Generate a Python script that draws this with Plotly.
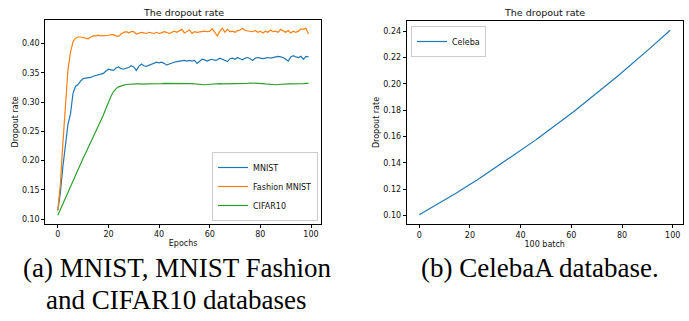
import plotly.graph_objects as go

# ---------------- data ----------------
epochs = list(range(100))
batches = list(range(100))

mnist = [0.115, 0.145, 0.190, 0.228, 0.262, 0.280, 0.315, 0.327, 0.330, 0.336,
         0.340, 0.341, 0.341, 0.342, 0.344, 0.345, 0.346, 0.347, 0.349, 0.353,
         0.356, 0.355, 0.354, 0.358, 0.360, 0.357, 0.356, 0.358, 0.359, 0.362,
         0.360, 0.354, 0.361, 0.365, 0.362, 0.361, 0.363, 0.365, 0.366, 0.368,
         0.367, 0.368, 0.366, 0.363, 0.365, 0.367, 0.368, 0.369, 0.370, 0.370,
         0.371, 0.370, 0.371, 0.370, 0.371, 0.366, 0.369, 0.373, 0.372, 0.370,
         0.372, 0.373, 0.371, 0.372, 0.375, 0.373, 0.372, 0.369, 0.374, 0.375,
         0.373, 0.376, 0.374, 0.372, 0.375, 0.376, 0.374, 0.371, 0.375, 0.376,
         0.375, 0.374, 0.375, 0.376, 0.375, 0.376, 0.377, 0.378, 0.377, 0.376,
         0.373, 0.370, 0.377, 0.379, 0.377, 0.376, 0.378, 0.373, 0.378, 0.377]

fashion_mnist = [0.116, 0.160, 0.230, 0.300, 0.355, 0.385, 0.403, 0.409, 0.411, 0.411,
                 0.410, 0.409, 0.408, 0.411, 0.413, 0.413, 0.414, 0.413, 0.413, 0.414,
                 0.414, 0.415, 0.415, 0.413, 0.412, 0.416, 0.419, 0.420, 0.418, 0.420,
                 0.420, 0.416, 0.417, 0.419, 0.418, 0.417, 0.419, 0.418, 0.417, 0.419,
                 0.417, 0.418, 0.420, 0.419, 0.417, 0.419, 0.421, 0.419, 0.422, 0.424,
                 0.418, 0.420, 0.423, 0.417, 0.420, 0.419, 0.420, 0.420, 0.421, 0.420,
                 0.421, 0.425, 0.419, 0.413, 0.421, 0.426, 0.419, 0.424, 0.420, 0.421,
                 0.419, 0.422, 0.423, 0.426, 0.422, 0.421, 0.421, 0.420, 0.422, 0.419,
                 0.421, 0.418, 0.421, 0.419, 0.423, 0.420, 0.421, 0.419, 0.424, 0.421,
                 0.419, 0.422, 0.418, 0.421, 0.419, 0.421, 0.425, 0.424, 0.426, 0.416]

cifar10 = [0.107, 0.117, 0.127, 0.137, 0.147, 0.156, 0.166, 0.175, 0.185, 0.194,
           0.204, 0.213, 0.222, 0.231, 0.241, 0.250, 0.259, 0.268, 0.278, 0.289,
           0.300, 0.310, 0.318, 0.323, 0.326, 0.328, 0.329, 0.330, 0.3305, 0.331,
           0.331, 0.331, 0.331, 0.3305, 0.3305, 0.331, 0.331, 0.331, 0.3305, 0.331,
           0.331, 0.3315, 0.332, 0.332, 0.3315, 0.332, 0.3325, 0.3325, 0.332, 0.332,
           0.3325, 0.332, 0.332, 0.3315, 0.331, 0.3305, 0.330, 0.3295, 0.3295, 0.330,
           0.3305, 0.331, 0.331, 0.3315, 0.3315, 0.331, 0.331, 0.3315, 0.332, 0.332,
           0.3315, 0.331, 0.331, 0.3315, 0.332, 0.332, 0.3325, 0.3325, 0.3325, 0.332,
           0.332, 0.3315, 0.331, 0.3305, 0.330, 0.3295, 0.3295, 0.330, 0.3305, 0.331,
           0.331, 0.331, 0.331, 0.331, 0.3305, 0.331, 0.3315, 0.3315, 0.332, 0.332]

celeba = [0.1005, 0.1016, 0.1027, 0.1038, 0.1049, 0.1060, 0.1071, 0.1082, 0.1094, 0.1105,
          0.1116, 0.1128, 0.1140, 0.1151, 0.1163, 0.1175, 0.1187, 0.1198, 0.1210, 0.1222,
          0.1235, 0.1247, 0.1259, 0.1271, 0.1284, 0.1296, 0.1309, 0.1321, 0.1334, 0.1347,
          0.1360, 0.1372, 0.1385, 0.1398, 0.1412, 0.1425, 0.1438, 0.1451, 0.1465, 0.1478,
          0.1491, 0.1505, 0.1519, 0.1532, 0.1546, 0.1560, 0.1574, 0.1588, 0.1602, 0.1616,
          0.1630, 0.1644, 0.1659, 0.1673, 0.1687, 0.1702, 0.1716, 0.1731, 0.1746, 0.1761,
          0.1775, 0.1790, 0.1805, 0.1820, 0.1835, 0.1851, 0.1866, 0.1881, 0.1897, 0.1912,
          0.1928, 0.1943, 0.1959, 0.1975, 0.1990, 0.2006, 0.2022, 0.2038, 0.2054, 0.2070,
          0.2087, 0.2103, 0.2119, 0.2136, 0.2152, 0.2169, 0.2185, 0.2202, 0.2219, 0.2236,
          0.2252, 0.2269, 0.2286, 0.2303, 0.2321, 0.2338, 0.2355, 0.2373, 0.2390, 0.2407]

x_ticks = [0, 20, 40, 60, 80, 100]
left_y_ticks = [0.10, 0.15, 0.20, 0.25, 0.30, 0.35, 0.40]
right_y_ticks = [0.10, 0.12, 0.14, 0.16, 0.18, 0.20, 0.22, 0.24]

# ---------------- figure ----------------
W, H = 689, 321
BLUE, ORANGE, GREEN = "#1f77b4", "#ff7f0e", "#2ca02c"
TICK_FONT = dict(family="DejaVu Sans", size=8, color="#111111")
LBL_FONT = dict(family="DejaVu Sans", size=8, color="#111111")

fig = go.Figure()
lw = 1.2
fig.add_trace(go.Scatter(x=epochs, y=mnist, mode="lines", name="MNIST",
                         line=dict(color=BLUE, width=lw), xaxis="x", yaxis="y", legend="legend"))
fig.add_trace(go.Scatter(x=epochs, y=fashion_mnist, mode="lines", name="Fashion MNIST",
                         line=dict(color=ORANGE, width=lw), xaxis="x", yaxis="y", legend="legend"))
fig.add_trace(go.Scatter(x=epochs, y=cifar10, mode="lines", name="CIFAR10",
                         line=dict(color=GREEN, width=lw), xaxis="x", yaxis="y", legend="legend"))
fig.add_trace(go.Scatter(x=batches, y=celeba, mode="lines", name="Celeba",
                         line=dict(color=BLUE, width=lw), xaxis="x2", yaxis="y2", legend="legend2"))

def px_x(p):
    return p / W

def px_y(p):
    return 1 - p / H

axis_common = dict(showline=True, linecolor="black", linewidth=1, mirror=True,
                   ticks="outside", ticklen=3, tickwidth=1, tickcolor="black",
                   showgrid=False, zeroline=False, tickfont=TICK_FONT, automargin=False)

fig.update_layout(
    template="none",
    width=W, height=H,
    margin=dict(l=0, r=0, t=0, b=0, pad=0, autoexpand=False),
    paper_bgcolor="white", plot_bgcolor="white",
    xaxis=dict(domain=[px_x(45.3), px_x(321)], range=[-4.95, 103.95],
               tickvals=x_ticks, anchor="y",
               title=dict(text="Epochs", font=LBL_FONT, standoff=2), **axis_common),
    yaxis=dict(domain=[px_y(223.7), px_y(20)], range=[0.0925, 0.4400],
               tickvals=left_y_ticks, tickformat=".2f", anchor="x",
               title=dict(text="Dropout rate", font=LBL_FONT, standoff=2), **axis_common),
    xaxis2=dict(domain=[px_x(406.7), px_x(682.7)], range=[-4.95, 103.95],
                tickvals=x_ticks, anchor="y2",
                title=dict(text="100 batch", font=LBL_FONT, standoff=2), **axis_common),
    yaxis2=dict(domain=[px_y(224), px_y(21)], range=[0.0935, 0.2477],
                tickvals=right_y_ticks, tickformat=".2f", anchor="x2",
                title=dict(text="Dropout rate", font=LBL_FONT, standoff=2), **axis_common),
    legend=dict(x=px_x(318), y=px_y(221), xanchor="right", yanchor="bottom",
                bgcolor="rgba(255,255,255,0.8)", bordercolor="#cccccc", borderwidth=1,
                font=dict(family="DejaVu Sans", size=8, color="#111111"),
                itemwidth=30, tracegroupgap=0),
    legend2=dict(x=px_x(411), y=px_y(26), xanchor="left", yanchor="top",
                 bgcolor="rgba(255,255,255,0.8)", bordercolor="#cccccc", borderwidth=1,
                 font=dict(family="DejaVu Sans", size=8, color="#111111"),
                 itemwidth=30),
    showlegend=True,
)

title_font = dict(family="DejaVu Sans", size=9.5, color="#111111")
fig.add_annotation(text="The dropout rate", x=px_x((45.3 + 321) / 2), y=px_y(12.8),
                   xref="paper", yref="paper", showarrow=False, font=title_font,
                   xanchor="center", yanchor="middle")
fig.add_annotation(text="The dropout rate", x=px_x((406.7 + 682.7) / 2), y=px_y(12.8),
                   xref="paper", yref="paper", showarrow=False, font=title_font,
                   xanchor="center", yanchor="middle")

cap_font = dict(family="Liberation Serif", size=27, color="black")
fig.add_annotation(text="(a) MNIST, MNIST Fashion", x=px_x(177), y=px_y(268),
                   xref="paper", yref="paper", showarrow=False, font=cap_font,
                   xanchor="center", yanchor="middle")
fig.add_annotation(text="and CIFAR10 databases", x=px_x(176), y=px_y(300),
                   xref="paper", yref="paper", showarrow=False, font=cap_font,
                   xanchor="center", yanchor="middle")
fig.add_annotation(text="(b) CelebaA database.", x=px_x(540), y=px_y(268),
                   xref="paper", yref="paper", showarrow=False, font=cap_font,
                   xanchor="center", yanchor="middle")

fig.write_html("out.html",
               config={"displayModeBar": False, "staticPlot": True},
               post_script="document.body.style.margin='0';document.body.style.overflow='hidden';")
